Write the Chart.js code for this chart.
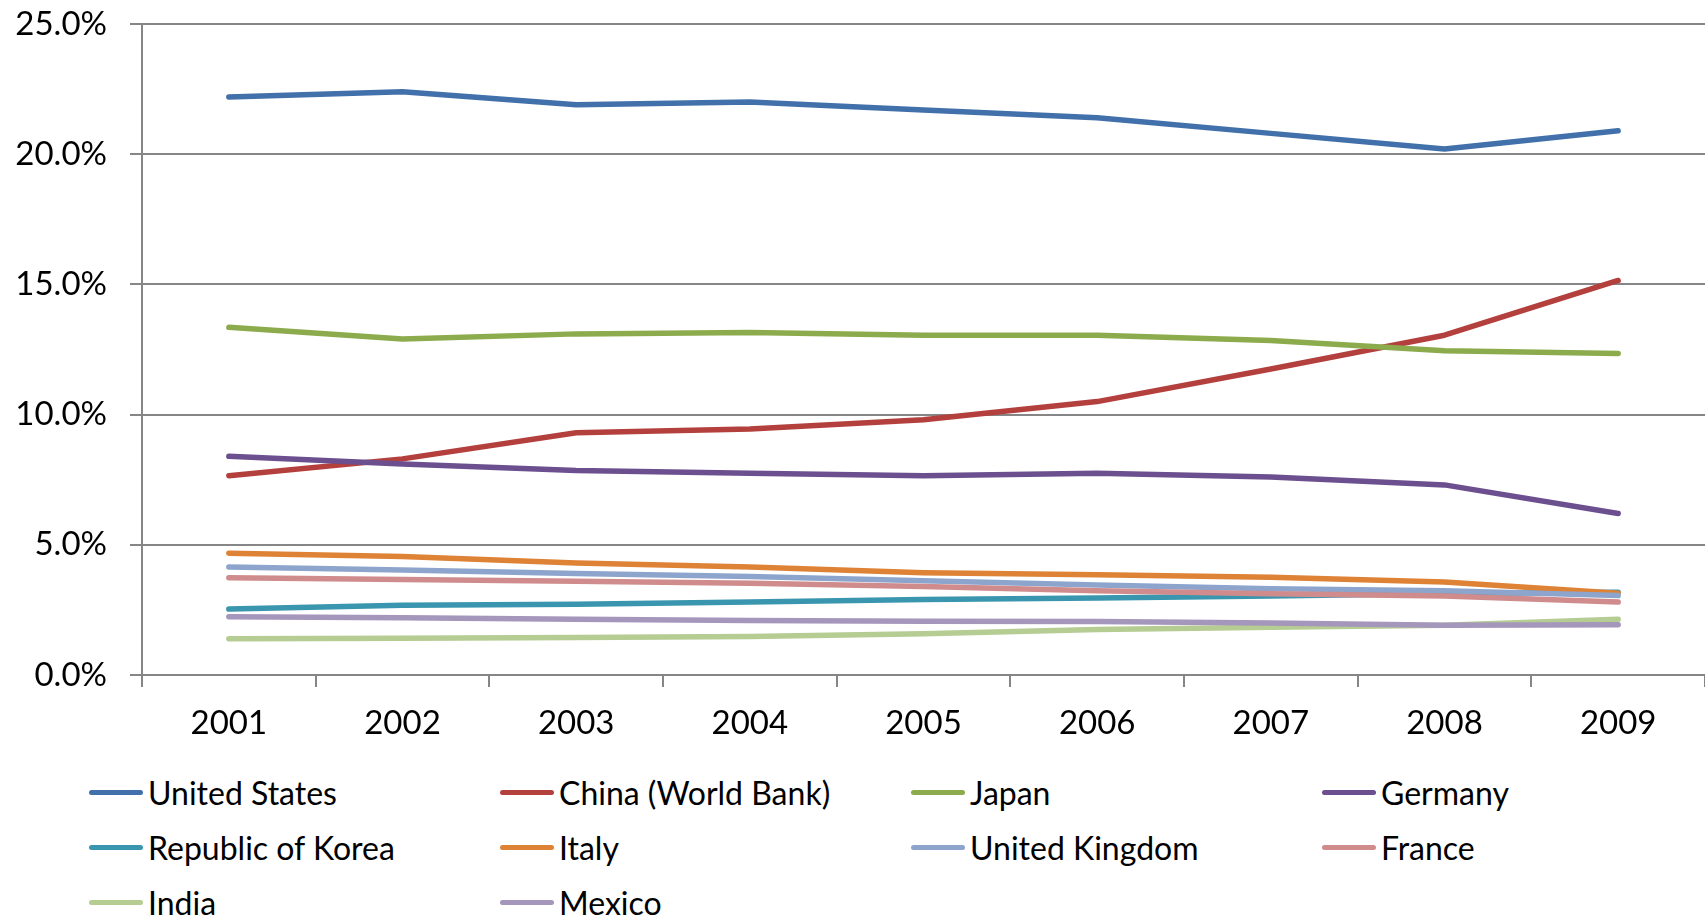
<!DOCTYPE html>
<html>
<head>
<meta charset="utf-8">
<script src="https://cdn.jsdelivr.net/npm/chart.js@4"></script>
<style>
    body { margin: 0; background: #fff; }
    #wrap { position: relative; width: 1705px; height: 917px; }
    #legend {
        position: absolute; left: 89px; top: 765px;
        display: grid; grid-template-columns: repeat(4, 411px);
        font-family: Lato, sans-serif; font-size: 32px; color: #000;
    }
    .item { display: flex; align-items: center; height: 55px; white-space: nowrap; }
    .swatch { width: 54px; height: 5px; border-radius: 3px; margin-right: 5px; }
</style>
</head>
<body>
<div id="wrap">
    <canvas id="chart" width="1705" height="760"></canvas>
    <div id="legend"></div>
</div>
<script>
var years = ['2001', '2002', '2003', '2004', '2005', '2006', '2007', '2008', '2009'];

// share of world manufacturing output, percent
var unitedStates = [22.2, 22.4, 21.9, 22.0, 21.7, 21.4, 20.8, 20.2, 20.9];
var china = [7.65, 8.3, 9.3, 9.45, 9.8, 10.5, 11.75, 13.05, 15.15];
var japan = [13.35, 12.9, 13.1, 13.15, 13.05, 13.05, 12.85, 12.45, 12.35];
var germany = [8.4, 8.1, 7.85, 7.75, 7.65, 7.75, 7.6, 7.3, 6.2];
var korea = [2.53, 2.68, 2.72, 2.8, 2.9, 2.96, 3.03, 3.13, 3.18];
var italy = [4.68, 4.55, 4.3, 4.15, 3.93, 3.85, 3.75, 3.57, 3.14];
var unitedKingdom = [4.15, 4.03, 3.9, 3.78, 3.62, 3.46, 3.31, 3.24, 3.05];
var france = [3.73, 3.67, 3.6, 3.52, 3.4, 3.24, 3.12, 3.03, 2.8];
var india = [1.39, 1.41, 1.44, 1.48, 1.58, 1.75, 1.83, 1.91, 2.14];
var mexico = [2.24, 2.2, 2.14, 2.09, 2.06, 2.05, 2.0, 1.91, 1.93];

var seriesNames = ['United States', 'China (World Bank)', 'Japan', 'Germany',
    'Republic of Korea', 'Italy', 'United Kingdom', 'France', 'India', 'Mexico'];
var seriesData = [unitedStates, china, japan, germany, korea, italy,
    unitedKingdom, france, india, mexico];
var seriesColors = ['#4170AA', '#B4403E', '#8CAB4D', '#6C4F8E', '#3A96AE',
    '#DE8236', '#8DA5CD', '#D08C8C', '#B5CC93', '#A596BC'];

var gridGray = '#868686';
var font = { family: 'Lato, sans-serif', size: 33 };

var datasets = [];
for (let i = 0; i < seriesNames.length; i++) {
    datasets.push({
        label: seriesNames[i],
        data: seriesData[i],
        borderColor: seriesColors[i],
        backgroundColor: seriesColors[i],
        borderWidth: 5.5,
        borderCapStyle: 'round',
        borderJoinStyle: 'round',
        pointRadius: 0,
        tension: 0,
        // later series sit on top, like the spreadsheet draws them
        order: seriesNames.length - i
    });
}

var ctx = document.getElementById('chart').getContext('2d');
var myLineChart = new Chart(ctx, {
    type: 'line',
    data: {
        labels: years,
        datasets: datasets
    },
    options: {
        responsive: false,
        animation: false,
        devicePixelRatio: 1,
        layout: { padding: { top: 24, right: 0, left: 0, bottom: 0 } },
        plugins: {
            legend: { display: false },
            tooltip: { enabled: false }
        },
        scales: {
            x: {
                offset: true,
                grid: {
                    offset: true,
                    drawOnChartArea: false,
                    drawTicks: true,
                    tickLength: 12,
                    color: gridGray,
                    lineWidth: 2
                },
                border: { color: gridGray, width: 2 },
                ticks: { font: font, color: '#000', padding: 17, maxRotation: 0 },
                afterFit: function (scale) { scale.height = 85; }
            },
            y: {
                min: 0,
                max: 25,
                grid: { color: gridGray, lineWidth: 2, tickLength: 12 },
                border: { color: gridGray, width: 2 },
                ticks: {
                    stepSize: 5,
                    font: font,
                    color: '#000',
                    padding: 23,
                    callback: function (v) { return v.toFixed(1) + '%'; }
                },
                afterFit: function (scale) {
                    scale.width = 142;
                    // tick padding would otherwise push the plot top down
                    scale.paddingTop = 0;
                    scale.paddingBottom = 0;
                }
            }
        }
    }
});

// legend in four fixed columns
var legend = document.getElementById('legend');
for (let i = 0; i < seriesNames.length; i++) {
    let item = document.createElement('div');
    item.className = 'item';
    let swatch = document.createElement('span');
    swatch.className = 'swatch';
    swatch.style.background = seriesColors[i];
    item.appendChild(swatch);
    item.appendChild(document.createTextNode(seriesNames[i]));
    legend.appendChild(item);
}
</script>
</body>
</html>
